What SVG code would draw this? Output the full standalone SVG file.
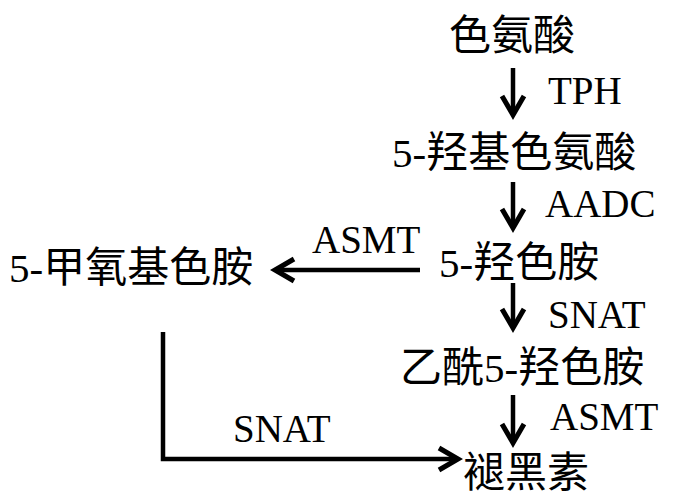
<svg xmlns="http://www.w3.org/2000/svg" width="700" height="502" viewBox="0 0 700 502">
<style>
.n{font-family:"Noto Sans CJK SC","Liberation Serif",sans-serif;font-size:42px;fill:#000}
.l{font-family:"Liberation Serif",serif;font-size:41px}
.e{font-family:"Liberation Serif",serif;font-size:39px;fill:#000}
.c{fill:none;stroke:#000;stroke-width:4.5}
</style>
<defs>
<marker id="ah" markerUnits="userSpaceOnUse" viewBox="-26 -16 30 32" markerWidth="30" markerHeight="32" refX="0" refY="0" orient="auto" overflow="visible">
<path d="M-19,-11 L0,0 L-19,11" fill="none" stroke="#000" stroke-width="5" stroke-linejoin="miter"/>
</marker>
</defs>
<rect width="700" height="502" fill="#fff"/>
<g id="connectors">
<path class="c" d="M513,68 V115" marker-end="url(#ah)"/>
<path class="c" d="M513,182 V228" marker-end="url(#ah)"/>
<path class="c" d="M513,283 V328" marker-end="url(#ah)"/>
<path class="c" d="M513,395 V443" marker-end="url(#ah)"/>
<path class="c" d="M420,270 H275" marker-end="url(#ah)"/>
<path class="c" d="M163,332 V459 H458" marker-end="url(#ah)"/>
</g>
<g id="labels">
<text class="e" x="548" y="104">TPH</text>
<text class="e" x="545" y="217">AADC</text>
<text class="e" x="312" y="253">ASMT</text>
<text class="e" x="548" y="328">SNAT</text>
<text class="e" x="550" y="430">ASMT</text>
<text class="e" x="233" y="442">SNAT</text>
</g>
<g id="tryptophan"><text class="n" x="449" y="50">色氨酸</text></g>
<g id="htp"><text class="n" x="392" y="167"><tspan class="l">5-</tspan>羟基色氨酸</text></g>
<g id="serotonin"><text class="n" x="439" y="277"><tspan class="l">5-</tspan>羟色胺</text></g>
<g id="methoxytryptamine"><text class="n" x="9" y="282"><tspan class="l">5-</tspan>甲氧基色胺</text></g>
<g id="nas"><text class="n" x="400" y="382">乙酰<tspan class="l">5-</tspan>羟色胺</text></g>
<g id="melatonin"><text class="n" x="463" y="487">褪黑素</text></g>
</svg>
